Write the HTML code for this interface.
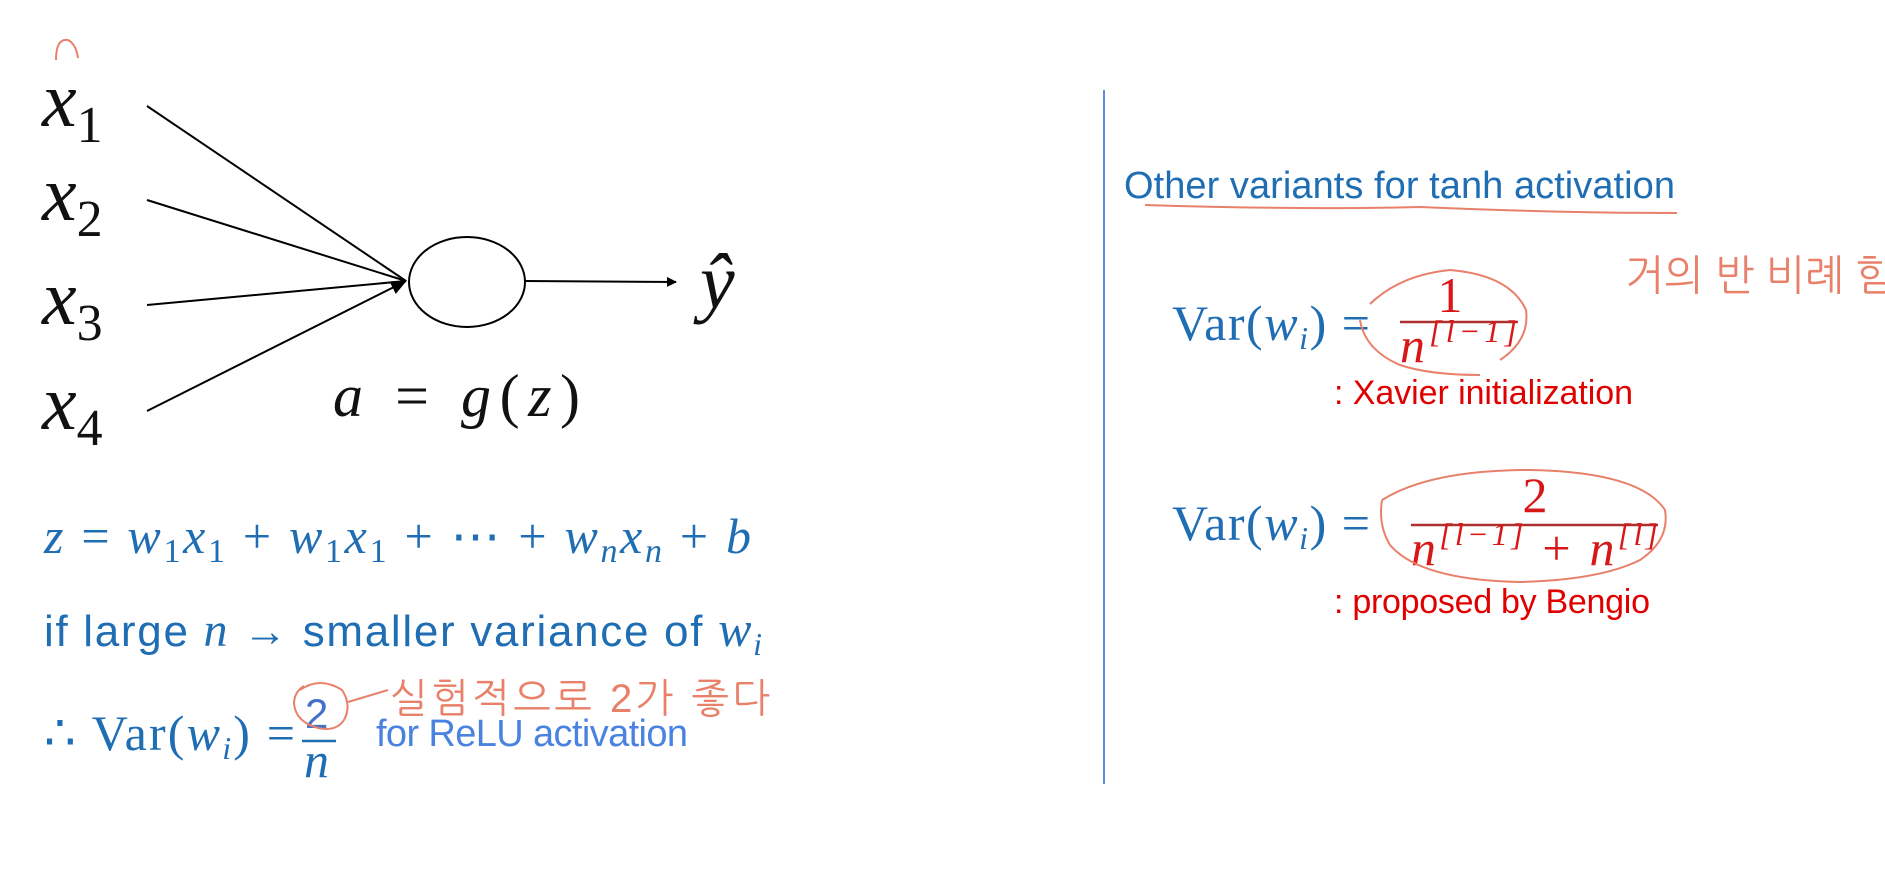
<!DOCTYPE html>
<html><head><meta charset="utf-8">
<style>
html,body{margin:0;padding:0;background:#fff;width:1885px;height:876px;overflow:hidden}
svg{display:block}
.m{font-family:"Liberation Serif",serif;font-style:italic}
.s{font-family:"Liberation Sans",sans-serif}
.k{font-family:"Liberation Sans","NanumGothic","Noto Sans CJK KR",sans-serif}
</style></head>
<body>
<svg width="1885" height="876" viewBox="0 0 1885 876" xmlns="http://www.w3.org/2000/svg">
<defs><marker id="ah" markerWidth="10" markerHeight="10" refX="9" refY="5" orient="auto" markerUnits="userSpaceOnUse"><path d="M0,0 L10,5 L0,10z" fill="#000"/></marker>
<marker id="ah2" markerWidth="16" markerHeight="14" refX="15" refY="7" orient="auto" markerUnits="userSpaceOnUse"><path d="M0,0 L16,7 L0,14z" fill="#000"/></marker></defs>

<path d="M56,60 Q56,38 68,40 Q76,44 78,58" fill="none" stroke="#e8806a" stroke-width="2"/>

<g class="m" font-size="78" fill="#111">
<text x="42" y="126">x<tspan font-style="normal" font-size="52" dy="16">1</tspan></text>
<text x="42" y="220">x<tspan font-style="normal" font-size="52" dy="16">2</tspan></text>
<text x="42" y="324">x<tspan font-style="normal" font-size="52" dy="16">3</tspan></text>
<text x="42" y="429">x<tspan font-style="normal" font-size="52" dy="16">4</tspan></text>
</g>
<g stroke="#000" stroke-width="2">
<line x1="147" y1="106" x2="406" y2="281"/>
<line x1="147" y1="200" x2="406" y2="281"/>
<line x1="147" y1="305" x2="406" y2="281"/>
<line x1="147" y1="411" x2="406" y2="281" marker-end="url(#ah2)"/>
</g>
<ellipse cx="467" cy="282" rx="58" ry="45" fill="#fff" stroke="#000" stroke-width="2"/>
<line x1="525" y1="281" x2="676" y2="282" stroke="#000" stroke-width="2" marker-end="url(#ah)"/>
<text x="700" y="308" class="m" font-size="78" fill="#111">ŷ</text>
<text x="333" y="416" class="m" font-size="60" fill="#111" textLength="247" lengthAdjust="spacing">a <tspan font-style="normal">=</tspan> g<tspan font-style="normal">(</tspan>z<tspan font-style="normal">)</tspan></text>

<text x="44" y="553" class="m" font-size="50" fill="#1f6db3" textLength="707" lengthAdjust="spacing">z <tspan font-style="normal">=</tspan> w<tspan font-size="34" font-style="normal" dy="9">1</tspan><tspan dy="-9">x</tspan><tspan font-size="34" font-style="normal" dy="9">1</tspan><tspan font-style="normal" dy="-9"> + </tspan>w<tspan font-size="34" font-style="normal" dy="9">1</tspan><tspan dy="-9">x</tspan><tspan font-size="34" font-style="normal" dy="9">1</tspan><tspan font-style="normal" dy="-9"> + ⋯ + </tspan>w<tspan font-size="34" dy="9">n</tspan><tspan dy="-9">x</tspan><tspan font-size="34" dy="9">n</tspan><tspan font-style="normal" dy="-9"> + </tspan>b</text>

<text x="44" y="646" class="s" font-size="44" fill="#1f6db3" textLength="718" lengthAdjust="spacing">if large <tspan font-family="Liberation Serif" font-style="italic" font-size="48">n</tspan> → smaller variance of <tspan font-family="Liberation Serif" font-style="italic" font-size="50">w</tspan><tspan font-family="Liberation Serif" font-style="italic" font-size="32" dy="9">i</tspan></text>

<text x="44" y="750" font-family="Liberation Serif" font-size="50" fill="#1f6db3" textLength="251" lengthAdjust="spacing">∴ Var(<tspan font-style="italic">w</tspan><tspan font-style="italic" font-size="32" dy="9">i</tspan><tspan dy="-9">) =</tspan></text>
<text x="305" y="728" class="s" font-size="42" fill="#4470c8">2</text>
<line x1="302" y1="741" x2="336" y2="741" stroke="#1f6db3" stroke-width="2.5"/>
<text x="304" y="777" class="m" font-size="50" fill="#1f6db3">n</text>
<text x="376" y="746" class="s" font-size="38" fill="#4a82e0" textLength="312" lengthAdjust="spacing">for ReLU activation</text>
<path d="M300,690 Q320,676 342,690 Q352,705 344,720 Q336,732 318,728 Q296,722 294,704 Q294,692 304,686" fill="none" stroke="#e8806a" stroke-width="2"/>
<path d="M348,702 L388,690" fill="none" stroke="#e8806a" stroke-width="2"/>
<text x="390" y="712" class="k" font-size="40" fill="#e8806a" textLength="380" lengthAdjust="spacing">실험적으로 2가 좋다</text>

<line x1="1104" y1="90" x2="1104" y2="784" stroke="#5b8fe0" stroke-width="2"/>

<text x="1124" y="198" class="s" font-size="38" fill="#1f6db3" textLength="551" lengthAdjust="spacing">Other variants for tanh activation</text>
<path d="M1145,205 Q1300,210 1420,207 Q1560,213 1677,213" fill="none" stroke="#e8806a" stroke-width="2"/>
<text x="1625" y="290" class="k" font-size="42" fill="#e8806a" textLength="270" lengthAdjust="spacingAndGlyphs">거의 반 비례 함</text>

<text x="1172" y="340" font-family="Liberation Serif" font-size="50" fill="#1f6db3" textLength="198" lengthAdjust="spacing">Var(<tspan font-style="italic">w</tspan><tspan font-style="italic" font-size="32" dy="9">i</tspan><tspan dy="-9">) =</tspan></text>
<text x="1450" y="312" text-anchor="middle" font-family="Liberation Serif" font-size="50" fill="#d81818">1</text>
<line x1="1400" y1="322" x2="1518" y2="322" stroke="#b03030" stroke-width="2.5"/>
<text x="1400" y="362" font-family="Liberation Serif" font-style="italic" font-size="50" fill="#d81818" textLength="117" lengthAdjust="spacing">n<tspan font-size="32" dy="-20">[l−1]</tspan></text>
<path d="M1370,304 Q1400,275 1450,270 Q1510,275 1526,310 Q1530,340 1500,360 M1360,320 Q1365,350 1400,365 Q1430,375 1480,375" fill="none" stroke="#e8806a" stroke-width="2"/>
<text x="1334" y="404" class="s" font-size="34" fill="#e00000" textLength="299" lengthAdjust="spacing">: Xavier initialization</text>

<text x="1172" y="540" font-family="Liberation Serif" font-size="50" fill="#1f6db3" textLength="198" lengthAdjust="spacing">Var(<tspan font-style="italic">w</tspan><tspan font-style="italic" font-size="32" dy="9">i</tspan><tspan dy="-9">) =</tspan></text>
<text x="1535" y="512" text-anchor="middle" font-family="Liberation Serif" font-size="50" fill="#d81818">2</text>
<line x1="1411" y1="525" x2="1658" y2="525" stroke="#b03030" stroke-width="2.5"/>
<text x="1411" y="565" font-family="Liberation Serif" font-style="italic" font-size="50" fill="#d81818" textLength="247" lengthAdjust="spacing">n<tspan font-size="32" dy="-20">[l−1]</tspan><tspan font-style="normal" dy="20"> + </tspan>n<tspan font-size="32" dy="-20">[l]</tspan></text>
<path d="M1382,500 Q1430,470 1530,470 Q1640,472 1665,510 Q1670,540 1640,560 Q1600,580 1520,582 Q1420,580 1390,545 Q1378,525 1382,500" fill="none" stroke="#e8806a" stroke-width="2"/>
<text x="1334" y="613" class="s" font-size="34" fill="#e00000" textLength="316" lengthAdjust="spacing">: proposed by Bengio</text>
</svg>
</body></html>
